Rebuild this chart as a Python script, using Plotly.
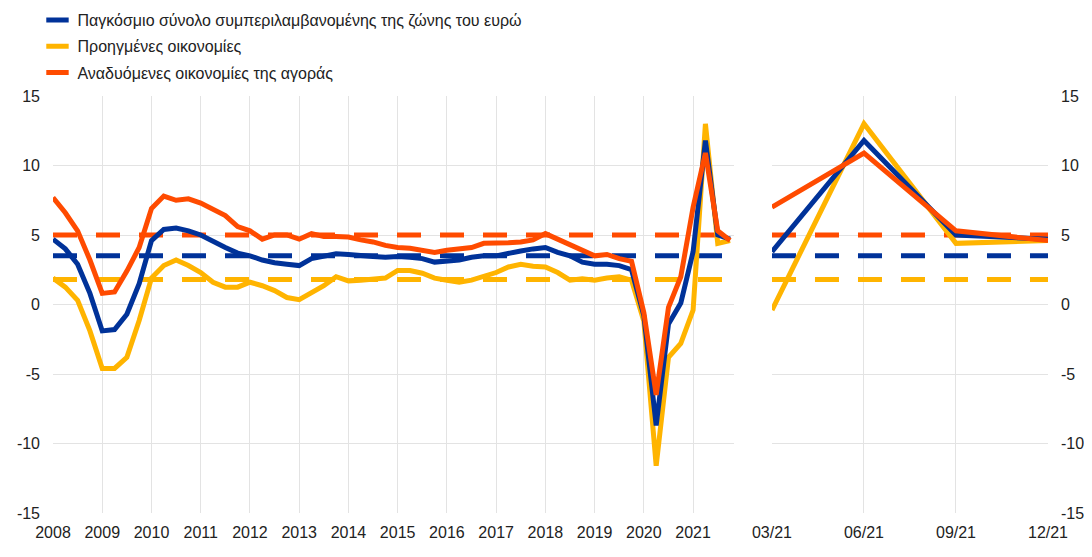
import plotly.graph_objects as go

# ---------------- data ----------------
years = list(range(2008, 2022))
quarter_offsets = [0.0, 0.25, 0.5, 0.75]
dates = [y + q for y in years for q in quarter_offsets]

euro_area_demand = [
    4.7, 4.0, 2.9, 0.8,
    -1.9, -1.8, -0.7, 1.5,
    4.6, 5.4, 5.5, 5.3,
    5.0, 4.5, 4.1, 3.7,
    3.5, 3.2, 3.0, 2.9,
    2.8, 3.3, 3.45, 3.65,
    3.6, 3.5, 3.45, 3.4,
    3.45, 3.4, 3.3, 3.05,
    3.1, 3.2, 3.4, 3.5,
    3.5, 3.7, 3.85, 4.0,
    4.1, 3.75, 3.5, 3.05,
    2.9, 2.9, 2.8, 2.5,
    -0.8, -8.7, -1.4, 0.1,
    3.8, 11.8, 5.0, 4.7,
]
advanced = [
    1.9, 1.25, 0.3, -1.9,
    -4.6, -4.6, -3.8, -1.15,
    1.9, 2.8, 3.2, 2.8,
    2.3, 1.6, 1.25, 1.25,
    1.6, 1.35, 1.0, 0.5,
    0.35, 0.8, 1.35, 2.0,
    1.7, 1.75, 1.85, 1.9,
    2.45, 2.45, 2.25, 1.9,
    1.75, 1.6, 1.75, 2.0,
    2.3, 2.7, 2.9, 2.75,
    2.7, 2.3, 1.75, 1.85,
    1.75, 1.9, 2.0, 1.75,
    -1.2, -11.6, -3.8, -2.8,
    -0.4, 13.0, 4.4, 4.6,
]
emerging = [
    7.7, 6.6, 5.3, 3.2,
    0.8, 0.9, 2.4, 4.1,
    6.9, 7.8, 7.5, 7.6,
    7.3, 6.8, 6.4, 5.6,
    5.3, 4.7, 5.0, 5.0,
    4.7, 5.1, 4.9, 4.9,
    4.85, 4.65, 4.5, 4.25,
    4.1, 4.05, 3.9, 3.75,
    3.9, 4.0, 4.1, 4.4,
    4.4, 4.45, 4.5, 4.65,
    5.1, 4.7, 4.35, 3.9,
    3.5, 3.6, 3.3, 3.1,
    -0.6, -6.5, -0.2, 2.0,
    7.0, 10.9, 5.3, 4.6,
]

avg_euro_area = 3.5
avg_advanced = 1.8
avg_emerging = 5.0

zoom_labels = ["03/21", "06/21", "09/21", "12/21"]
year_labels = [str(y) for y in years]
y_ticks = [-15, -10, -5, 0, 5, 10, 15]
y_tick_labels = ["-15", "-10", "-5", "0", "5", "10", "15"]

series_names = [
    "Παγκόσμιο σύνολο συμπεριλαμβανομένης της ζώνης του ευρώ",
    "Προηγμένες οικονομίες",
    "Αναδυόμενες οικονομίες της αγοράς",
]

# ---------------- style ----------------
BLUE = "#003299"
YELLOW = "#ffb400"
RED = "#ff4b00"
GRID = "#e3e3e3"
FONT = "Liberation Sans, Arial, sans-serif"
TXT = "#222222"
LW = 5
DASH = "24px,19px"
X_END = 2021.83

series = [
    (series_names[0], euro_area_demand, avg_euro_area, BLUE),
    (series_names[1], advanced, avg_advanced, YELLOW),
    (series_names[2], emerging, avg_emerging, RED),
]
draw_order = [1, 0, 2]  # yellow, blue, red on top

fig = go.Figure()

# averages (dashed) first
for i in draw_order:
    name, vals, avg, col = series[i]
    fig.add_trace(go.Scatter(x=[dates[0], X_END], y=[avg, avg], mode="lines",
                             line=dict(color=col, width=LW, dash=DASH),
                             xaxis="x", yaxis="y", showlegend=False, hoverinfo="skip"))
    fig.add_trace(go.Scatter(x=[zoom_labels[0], zoom_labels[-1]], y=[avg, avg], mode="lines",
                             line=dict(color=col, width=LW, dash=DASH),
                             xaxis="x2", yaxis="y2", showlegend=False, hoverinfo="skip"))

# main lines
for i in draw_order:
    name, vals, avg, col = series[i]
    fig.add_trace(go.Scatter(x=dates, y=vals, mode="lines",
                             line=dict(color=col, width=LW),
                             xaxis="x", yaxis="y", showlegend=False, name=name))
    fig.add_trace(go.Scatter(x=zoom_labels, y=vals[-4:], mode="lines",
                             line=dict(color=col, width=LW),
                             xaxis="x2", yaxis="y2", showlegend=False, name=name))

# legend entries
for k, (name, vals, avg, col) in enumerate(series):
    fig.add_trace(go.Scatter(x=[None], y=[None], mode="markers", name=name,
                             legendgroup=f"g{k}",
                             marker=dict(symbol="line-ew", size=16, color=col,
                                         line=dict(width=5, color=col)),
                             xaxis="x", yaxis="y"))

axis_font = dict(family=FONT, size=16, color=TXT)

fig.update_layout(
    width=1084, height=549,
    paper_bgcolor="white", plot_bgcolor="white",
    margin=dict(l=45, r=44, t=88, b=44, autoexpand=False),
    font=dict(family=FONT, size=16, color=TXT),
    showlegend=True,
    legend=dict(x=0.0272, y=1.223, xref="container", yref="paper",
                xanchor="left", yanchor="top",
                font=dict(family=FONT, size=16, color=TXT),
                tracegroupgap=2.5, bgcolor="rgba(0,0,0,0)",
                itemclick=False),
    xaxis=dict(domain=[0, 0.6844], range=[2008, X_END],
               tickvals=years, ticktext=year_labels, tickangle=0,
               showgrid=True, gridcolor=GRID, gridwidth=1,
               zeroline=False, showline=False, ticks="",
               tickfont=axis_font, ticklabelstandoff=8, anchor="y"),
    yaxis=dict(range=[-15, 15], tickvals=y_ticks, ticktext=y_tick_labels,
               showgrid=True, gridcolor=GRID, gridwidth=1,
               zeroline=False, showline=False, ticks="",
               tickfont=axis_font, ticklabelstandoff=12, anchor="x"),
    xaxis2=dict(domain=[0.7226, 1], type="category", range=[0, 3],
                categoryorder="array", categoryarray=zoom_labels, tickangle=0,
                showgrid=True, gridcolor=GRID, gridwidth=1,
                zeroline=False, showline=False, ticks="",
                tickfont=axis_font, ticklabelstandoff=8, anchor="y2"),
    yaxis2=dict(range=[-15, 15], tickvals=y_ticks, ticktext=y_tick_labels, side="right",
                showgrid=True, gridcolor=GRID, gridwidth=1,
                zeroline=False, showline=False, ticks="",
                tickfont=axis_font, ticklabelstandoff=12, anchor="x2"),
)

fig.write_html("out.html")
